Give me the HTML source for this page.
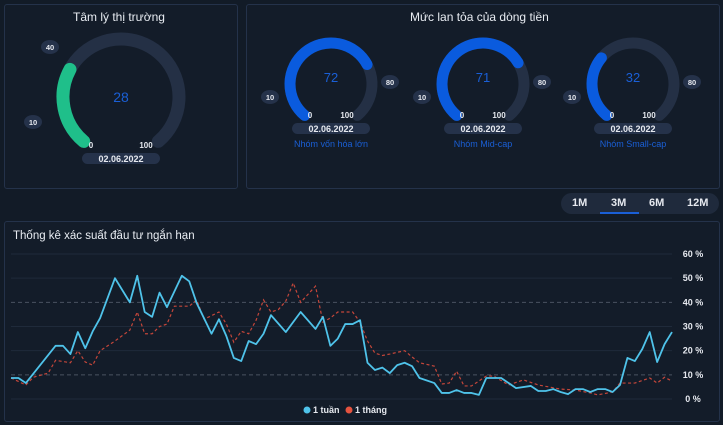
<!DOCTYPE html>
<html><head><meta charset="utf-8"><style>
body{margin:0;width:723px;height:425px;background:#121b27;font-family:"Liberation Sans","Noto Sans CJK SC",sans-serif;position:relative;overflow:hidden;color:#e6e9ef}
.panel{position:absolute;border:1px solid #24324a;border-radius:3px;background:#131c29}
.t{position:absolute;font-size:12px;color:#e8ecf2;white-space:nowrap}
.btn{position:absolute;top:197px;font-size:11px;font-weight:bold;color:#e6e9ef}
</style></head><body>
<div class="panel" style="left:4px;top:4px;width:232px;height:183px"></div>
<div class="panel" style="left:246px;top:4px;width:472px;height:183px"></div>
<div class="panel" style="left:4px;top:221px;width:714px;height:199px"></div>
<div class="t" style="left:73px;top:10px">Tâm lý thị trường</div>
<div class="t" style="left:410px;top:10px">Mức lan tỏa của dòng tiền</div>
<div class="t" style="left:13px;top:230px;font-size:11.5px">Thống kê xác suất đầu tư ngắn hạn</div>
<div style="position:absolute;left:561px;top:193px;width:158px;height:21px;background:#1f2a3c;border-radius:11px"></div>
<div class="btn" style="left:572px">1M</div>
<div class="btn" style="left:611px">3M</div>
<div style="position:absolute;left:600px;top:212px;width:39px;height:2px;background:#1a5fd6"></div>
<div class="btn" style="left:649px">6M</div>
<div class="btn" style="left:687px">12M</div>
<svg id="g" width="723" height="425" style="position:absolute;left:0;top:0"></svg>
<script>
const NS="http://www.w3.org/2000/svg";
const svg=document.getElementById('g');
function mk(tag,attrs){const e=document.createElementNS(NS,tag);for(const k in attrs)e.setAttribute(k,attrs[k]);svg.appendChild(e);return e;}
function txt(x,y,s,size,fill,bold){const e=mk('text',{x:x,y:y,'font-size':size,fill:fill,'text-anchor':'middle','font-family':'Liberation Sans, sans-serif','font-weight':bold?'bold':'normal'});e.textContent=s;return e;}
// gauges
const gaugeValues=[28,72,71,32];
const gaugeCaptions=["","Nhóm vốn hóa lớn","Nhóm Mid-cap","Nhóm Small-cap"];
const gaugeSpecs=[{cx:121,cy:97,r:58,w:13,col:'#1fbf8a',big:true},{cx:331,cy:84,r:41,w:11,col:'#0a5bde',big:false},{cx:483,cy:84,r:41,w:11,col:'#0a5bde',big:false},{cx:633,cy:84,r:41,w:11,col:'#0a5bde',big:false}];
function pt(cx,cy,r,a){const t=a*Math.PI/180;return [cx+r*Math.sin(t),cy-r*Math.cos(t)];}
function arc(cx,cy,r,a0,a1){const p0=pt(cx,cy,r,a0),p1=pt(cx,cy,r,a1);return `M${p0[0]},${p0[1]} A${r},${r} 0 ${a1-a0>180?1:0} 1 ${p1[0]},${p1[1]}`;}
gaugeSpecs.forEach((s,i)=>{
 const a0=220,sweep=280,v=gaugeValues[i];
 const tr=mk('path',{d:arc(s.cx,s.cy,s.r,a0,a0+sweep),stroke:'#243045','stroke-width':s.w,fill:'none','stroke-linecap':'round'});
 
 
 const va=mk('path',{d:arc(s.cx,s.cy,s.r,a0,a0+sweep*v/100),stroke:s.col,'stroke-width':s.w,fill:'none','stroke-linecap':'round'});
 
 
 const vt=txt(s.cx,s.cy+(s.big?5:-2),String(v),s.big?14:13,'#1a5fd6');
 
 
 const by=s.big?145:115;
 txt(s.big?s.cx-30:s.cx-21,by+3,'0',8,'#e6e9ef',1);
 txt(s.big?s.cx+25:s.cx+16,by+3,'100',8,'#e6e9ef',1);
 const pw=78;
 const pr=mk('rect',{x:s.cx-pw/2,y:by+8,width:pw,height:11,rx:5.5,fill:'#25324a'});
 
 
 txt(s.cx,by+17,'02.06.2022',9,'#e6e9ef',1);
 if(gaugeCaptions[i]){const c=txt(s.cx,by+32,gaugeCaptions[i],9,'#1a5fd6');}
 const lA=s.big?[{x:50,y:47,t:'40'},{x:33,y:122,t:'10'}]:[{x:s.cx-61,y:97,t:'10'},{x:s.cx+59,y:82,t:'80'}];
 lA.forEach(l=>{mk('ellipse',{cx:l.x,cy:l.y,rx:9,ry:7,fill:'#25324a'});txt(l.x,l.y+3,l.t,7.5,'#e6e9ef',1);});
});
// chart data
const yTicks=[0,10,20,30,40,50,60];
const nDays=90;
const weekDays=[0,1,2,6,7,8,9,10,11,12,14,16,17,18,19,20,21,23,24,25,27,28,29,30,31,32,33,34,35,37,39,41,42,43,44,45,46,47,48,49,50,51,52,53,54,55,57,58,59,60,61,62,63,64,66,67,68,70,71,72,73,74,75,76,77,78,79,80,81,82,83,84,85,86,87,88,89];
const weekVals=[8.7,8.7,6.6,22,22,18.6,27.7,21,28,33.5,50,40,51,36,34,44,38,51,48.7,39.7,27,33,26,17,15.7,24,22.7,27,34.7,27.7,36,29,34,22,25,31,31,32.6,15,12,13,10.7,14,15,13.6,8.7,6.6,2.5,2.5,3.7,2.5,2.5,1.7,8.7,8.7,6.6,4.5,5.4,3.3,3.3,4.1,2.9,2,4.1,4.1,2.9,4.1,4.1,2.9,5.8,17,15.7,20.7,27.7,15.3,22.7,27.7];
const monthDays=[0,2,3,5,6,7,8,9,10,11,12,14,16,17,18,19,20,21,22,24,25,26,28,29,30,31,32,33,34,35,36,37,38,39,41,42,43,44,46,47,48,49,50,51,53,54,55,57,58,59,60,61,62,64,65,67,69,71,74,76,78,79,81,82,84,86,87,88,89];
const monthVals=[8.7,5.8,9,10.7,16,15.5,15,20,15.3,14,20,24,28.5,36,27,27,30,31,38.4,38.4,41,33,36,31,23.5,28,27,32.6,41,36,37,40.5,48,40,46.7,31.8,33.5,36,36,31.8,24,19,18,18.6,20,17.4,15,13.6,6.2,6.6,11.5,5.4,5.4,9.5,9.5,5.8,7.9,5.8,4.1,3.7,2.5,1.7,2.9,6.6,6.6,8.7,6.6,9,7.4];
const X=d=>11+d*(672-11)/(nDays-1);
const Y=v=>399-v*(399-254)/60;
yTicks.forEach(t=>{
 const dashed=(t===10||t===40);
 const gl=mk('line',{x1:11,x2:672,y1:Y(t),y2:Y(t),stroke:dashed?'#4a5260':'#1f2a3a','stroke-width':1,'stroke-dasharray':dashed?'4,3':'none'});
 
 
 const tl=txt(693,Y(t)+3,t+' %',9,'#e6e9ef',1);
 
 
});
const mp=mk('polyline',{points:monthDays.map((d,i)=>X(d)+','+Y(monthVals[i])).join(' '),fill:'none',stroke:'#c4463a','stroke-width':1.2,'stroke-dasharray':'3,2.5'});


const wp=mk('polyline',{points:weekDays.map((d,i)=>X(d)+','+Y(weekVals[i])).join(' '),fill:'none',stroke:'#4fc3ea','stroke-width':1.8,'stroke-linejoin':'round'});


// legend
const l1=mk('circle',{cx:307,cy:410,r:3.5,fill:'#4fc3ea'});


const lt1=mk('text',{x:313,y:413,'font-size':9,fill:'#e6e9ef','font-weight':'bold','font-family':'Liberation Sans, sans-serif'});lt1.textContent='1 tuần';
const l2=mk('circle',{cx:349,cy:410,r:3.5,fill:'#e5533f'});


const lt2=mk('text',{x:355,y:413,'font-size':9,fill:'#e6e9ef','font-weight':'bold','font-family':'Liberation Sans, sans-serif'});lt2.textContent='1 tháng';
</script>
</body></html>
